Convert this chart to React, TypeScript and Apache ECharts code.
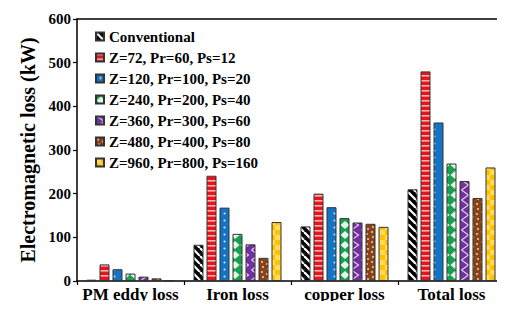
import React, { useEffect, useRef } from "react";
import * as echarts from "echarts";

const categories = ["PM eddy loss", "Iron loss", "copper loss", "Total loss"];
const seriesNames = [
  "Conventional",
  "Z=72, Pr=60, Ps=12",
  "Z=120, Pr=100, Ps=20",
  "Z=240, Pr=200, Ps=40",
  "Z=360, Pr=300, Ps=60",
  "Z=480, Pr=400, Ps=80",
  "Z=960, Pr=800, Ps=160",
];
const conventional = [3, 83, 125, 210];
const z72 = [38, 241, 200, 480];
const z120 = [27, 168, 169, 363];
const z240 = [17, 108, 144, 269];
const z360 = [10, 84, 134, 229];
const z480 = [6, 53, 131, 190];
const z960 = [1.5, 135, 124, 260];
const seriesValues = [conventional, z72, z120, z240, z360, z480, z960];
const yTicks = [0, 100, 200, 300, 400, 500, 600];

const FONT = "'Liberation Serif', 'Times New Roman', serif";

function makeTile(w: number, h: number, draw: (c: CanvasRenderingContext2D) => void) {
  const cv = document.createElement("canvas");
  cv.width = w;
  cv.height = h;
  const c = cv.getContext("2d")!;
  draw(c);
  return { image: cv, repeat: "repeat", imageWidth: w, imageHeight: h } as any;
}

function buildPatterns() {
  return [
    makeTile(8, 8, (c) => {
      c.fillStyle = "#000";
      c.fillRect(0, 0, 8, 8);
      c.strokeStyle = "#fff";
      c.lineWidth = 2.2;
      for (const o of [-8, 0, 8]) {
        c.beginPath();
        c.moveTo(o, 0);
        c.lineTo(o + 8, 8);
        c.stroke();
      }
    }),
    makeTile(10, 5, (c) => {
      c.fillStyle = "#E8141C";
      c.fillRect(0, 0, 10, 5);
      c.fillStyle = "#F7B3B5";
      c.fillRect(0, 0, 10, 1.6);
    }),
    makeTile(10, 7, (c) => {
      c.fillStyle = "#1474C4";
      c.fillRect(0, 0, 10, 7);
      c.fillStyle = "#D8ECFA";
      c.beginPath();
      c.arc(4.5, 3.5, 1, 0, Math.PI * 2);
      c.fill();
    }),
    makeTile(10, 10, (c) => {
      c.fillStyle = "#18A050";
      c.fillRect(0, 0, 10, 10);
      c.fillStyle = "#E6F8EC";
      c.beginPath();
      c.moveTo(5, 1);
      c.lineTo(9.5, 5);
      c.lineTo(5, 9);
      c.lineTo(0.5, 5);
      c.closePath();
      c.fill();
    }),
    makeTile(10, 10, (c) => {
      c.fillStyle = "#7030A0";
      c.fillRect(0, 0, 10, 10);
      c.strokeStyle = "#E8D8F4";
      c.lineWidth = 1.1;
      c.beginPath();
      c.moveTo(1.5, 0);
      c.lineTo(8.5, 5);
      c.lineTo(1.5, 10);
      c.stroke();
    }),
    makeTile(10, 10, (c) => {
      c.fillStyle = "#8A4217";
      c.fillRect(0, 0, 10, 10);
      c.fillStyle = "#F4E2D2";
      for (const [x, y] of [[2, 2], [7, 4], [3, 7], [8, 9]]) {
        c.beginPath();
        c.arc(x, y, 0.9, 0, Math.PI * 2);
        c.fill();
      }
    }),
    makeTile(10, 10, (c) => {
      c.fillStyle = "#FFC000";
      c.fillRect(0, 0, 10, 10);
      c.fillStyle = "#FFDC60";
      c.fillRect(0, 0, 5, 5);
      c.fillRect(5, 5, 5, 5);
    }),
  ];
}

export default function App() {
  const ref = useRef<HTMLDivElement>(null);
  useEffect(() => {
    if (!ref.current) return;
    const chart = echarts.init(ref.current, undefined, { renderer: "svg" });
    const patterns = buildPatterns();
    const option: any = {
      animation: false,
      backgroundColor: "#fff",
      textStyle: { fontFamily: FONT },
      grid: { left: 77, right: 0, top: 19, bottom: 28, containLabel: false },
      legend: {
        orient: "vertical",
        left: 90,
        top: 24,
        itemWidth: 8,
        itemHeight: 8,
        itemGap: 6,
        icon: "rect",
        data: seriesNames,
        textStyle: { fontFamily: FONT, fontWeight: "bold", fontSize: 15, color: "#000" },
      },
      xAxis: [
        {
          type: "category",
          data: categories,
          axisLine: { show: true, lineStyle: { color: "#000", width: 1.5 } },
          axisTick: { show: true, length: 4, lineStyle: { color: "#000", width: 1.2 } },
          axisLabel: {
            interval: 0,
            fontFamily: FONT,
            fontWeight: "bold",
            fontSize: 17,
            color: "#000",
            margin: 5,
          },
        },
        {
          type: "category",
          data: categories,
          position: "top",
          axisLine: { show: true, lineStyle: { color: "#000", width: 1.5 } },
          axisTick: { show: false },
          axisLabel: { show: false },
        },
      ],
      yAxis: {
        type: "value",
        min: yTicks[0],
        max: yTicks[yTicks.length - 1],
        interval: 100,
        name: "Electromagnetic loss (kW)",
        nameLocation: "middle",
        nameGap: 30,
        nameTextStyle: { fontFamily: FONT, fontWeight: "bold", fontSize: 20, color: "#000" },
        axisLine: { show: true, lineStyle: { color: "#000", width: 1.5 } },
        axisTick: { show: true, length: 4, lineStyle: { color: "#000", width: 1.2 } },
        splitLine: { show: false },
        axisLabel: {
          fontFamily: FONT,
          fontWeight: "bold",
          fontSize: 15,
          color: "#000",
          margin: 6,
        },
      },
      series: seriesNames.map((name, i) => ({
        name,
        type: "bar",
        data: seriesValues[i],
        barWidth: 10,
        barGap: "30%",
        itemStyle: { color: patterns[i], borderColor: "#333", borderWidth: 1 },
      })),
    };
    chart.setOption(option);
    return () => chart.dispose();
  }, []);
  return <div ref={ref} style={{ width: 505, height: 309, margin: -8 }} />;
}
